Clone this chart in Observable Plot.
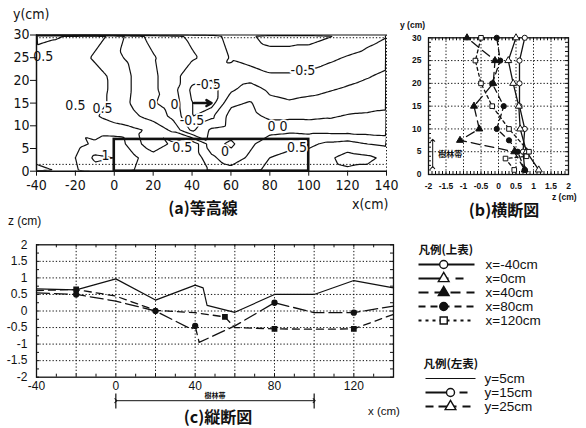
<!DOCTYPE html>
<html><head><meta charset="utf-8">
<script src="https://cdn.jsdelivr.net/npm/d3@7"></script>
<script src="https://cdn.jsdelivr.net/npm/@observablehq/plot@0.6"></script>
<style>
html,body{margin:0;padding:0;background:#fff;}
#root{position:relative;width:586px;height:428px;overflow:hidden;background:#fff;color:#111;font-family:"Liberation Sans",Arial,sans-serif;}
.t{position:absolute;white-space:nowrap;line-height:1;}
.cap{font-family:"Noto Sans CJK JP","Noto Sans CJK SC",sans-serif;font-weight:700;font-size:17px;transform:translateX(-50%);}
</style></head>
<body><div id="root"></div>
<script>
// ---------------- (a) contour map data ----------------
const contourX = [-40,-30,-20,-10,0,10,20,30,40,50,60,70,80,90,100,110,120,130,140];
const contourY = [30,25,21,18,15,12,9,6,3,0];
const contourZ = [
  [0.42,0.47,0.53,0.58,0.45,0.08,-0.08,-0.2,-0.3,-0.4,-0.6,-0.72,-0.85,-0.85,-0.85,-0.78,-0.7,-0.6,-0.52],
  [0.6,0.62,0.6,0.47,0.32,0.17,0.02,-0.1,-0.22,-0.32,-0.52,-0.6,-0.65,-0.65,-0.62,-0.55,-0.48,-0.42,-0.35],
  [0.62,0.63,0.62,0.58,0.45,0.22,0.05,-0.15,-0.4,-0.45,-0.45,-0.38,-0.47,-0.47,-0.44,-0.39,-0.33,-0.27,-0.2],
  [0.63,0.64,0.63,0.6,0.45,0.22,0.05,-0.15,-0.55,-0.6,-0.3,-0.12,-0.3,-0.35,-0.32,-0.27,-0.22,-0.17,-0.12],
  [0.65,0.65,0.62,0.58,0.45,0.2,0.02,-0.1,-0.5,-0.6,-0.05,0.02,-0.18,-0.22,-0.18,-0.15,-0.1,-0.07,-0.04],
  [0.66,0.66,0.62,0.52,0.42,0.3,0.15,-0.05,-0.5,-0.3,0.1,0.08,-0.05,-0.05,-0.05,-0.02,0.02,0.03,0.04],
  [0.7,0.72,0.7,0.62,0.6,0.55,0.45,0.2,-0.3,0.05,0.12,0.15,0.17,0.2,0.17,0.16,0.15,0.14,0.12],
  [0.65,0.65,0.65,0.8,0.95,0.6,0.35,0.55,0.7,0.1,-0.05,0.2,0.4,0.45,0.45,0.55,0.6,0.5,0.45],
  [0.7,0.72,0.75,1.05,1.0,0.8,0.6,0.65,0.7,0.3,0.1,0.3,0.5,0.55,0.6,0.7,0.85,0.8,0.7],
  [0.8,0.75,0.72,0.9,0.85,0.75,0.65,0.6,0.65,0.45,0.35,0.45,0.55,0.6,0.62,0.65,0.7,0.7,0.65]
];
const contourLevels = [-0.75,-0.5,-0.25,0,0.25,0.5,0.75,1];
const contourLabelText = ["0.5","0.5","0.5","0","0","-0.5","-0.5","0.5","0","-0.5","0 0","0.5","1"];
const contourLabelX = [-36.5,-20,-6,19.5,31,48.5,40,35,57,97,84,94,-4.5];
const contourLabelY = [25.3,14.4,13.7,14.6,14.6,19.2,11.2,5.3,4.4,22.1,9.8,5.3,3.5];
const treeZoneX = [0, 100];
const treeZoneTop = 7;
const waterLevel = 1.5;
const flowArrowX = [41, 50];
const flowArrowY = 15;

// ---------------- (b) cross sections (z vs y) ----------------
const bSeries = ["x=-40cm","x=0cm","x=40cm","x=80cm","x=120cm"];
const bY_m40 = [1,5,10,15,20,25,30];
const bZ_m40 = [0.75,0.7,0.75,0.6,0.6,0.6,0.75];
const bY_0 = [1,5,10,15,20,25,30];
const bZ_0 = [1.15,0.8,0.62,0.58,0.42,0.28,0.5];
const bY_40 = [1,5,7.5,10,15,20,25,30];
const bZ_40 = [0.75,0.45,-1.1,-0.55,-0.7,-0.15,-0.1,-0.9];
const bY_80 = [1,5,7.5,10,15,20,25,30];
const bZ_80 = [0.75,0.55,0.3,-0.05,0.15,-0.18,0.05,-0.05];
const bY_120 = [1,3.5,4,5,10,15,20,25,30];
const bZ_120 = [0.45,0.2,0.8,0.87,0.3,-0.18,-0.5,-0.66,-0.5];

// ---------------- (c) longitudinal sections (z vs x) ----------------
const cSeries = ["y=5cm","y=15cm","y=25cm"];
const cX_5 = [-40,-20,0,20,40,44,46,60,80,100,120,140];
const cZ_5 = [0.67,0.64,0.97,0.33,0.78,0.7,0.17,-0.04,0.5,0.5,0.92,0.7];
const cX_15 = [-40,-20,0,20,38,40,42,60,80,100,120,140];
const cZ_15 = [0.55,0.5,0.3,0.0,-0.55,-0.45,-0.95,-0.45,0.25,-0.05,-0.05,0.15];
const cX_25 = [-40,-20,0,20,40,55,60,80,100,120,140];
const cZ_25 = [0.62,0.65,0.45,0.02,-0.05,-0.18,-0.5,-0.54,-0.55,-0.54,-0.1];
const cMark_15 = [-20,20,40,80,120];
const cMark_25 = [-20,55,80,120];

// ---------------- styling ----------------
const SANS = '"Liberation Sans", Arial, Helvetica, sans-serif';
const NARROW = '"Liberation Sans Narrow","Arial Narrow","DejaVu Sans Condensed","Liberation Sans",sans-serif';
const CJK = '"Noto Sans CJK JP","Noto Sans CJK SC",sans-serif';
const INK = "#111";
const DOT = "1.3,2";
const fmt = d => String(d);

const root = document.getElementById("root");
function place(svg, left, top) {
  svg.style.position = "absolute";
  svg.style.left = left + "px";
  svg.style.top = top + "px";
  root.appendChild(svg);
}
function label(text, left, top, css, cls) {
  const d = document.createElement("div");
  d.className = cls || "t";
  d.textContent = text;
  d.style.left = left + "px";
  d.style.top = top + "px";
  Object.assign(d.style, css || {});
  root.appendChild(d);
  return d;
}

// ---------------- panel (a) ----------------
const grid = contourY.flatMap((y, i) => contourX.map((x, j) => ({x, y, z: contourZ[i][j]})));
const cLabels = contourLabelText.map((t, i) => ({t, x: contourLabelX[i], y: contourLabelY[i]}));
const pa = Plot.plot({
  width: 400, height: 195,
  marginLeft: 36, marginRight: 14, marginTop: 34.5, marginBottom: 24.3,
  x: {domain: [-40, 140]},
  y: {domain: [0, 30]},
  style: {fontFamily: NARROW, fontSize: "14px", color: INK, background: "transparent", overflow: "visible"},
  marks: [
    Plot.contour(grid, {x: "x", y: "y", value: "z", interpolate: "barycentric", thresholds: contourLevels,
      x1: -42, x2: 142, y1: -0.8, y2: 30.8, stroke: INK, strokeWidth: 1.2, fill: "none", clip: true}),
    Plot.ruleY([waterLevel], {stroke: INK, strokeDasharray: DOT}),
    Plot.ruleY([29.4], {stroke: INK, strokeDasharray: DOT}),
    Plot.ruleY([30], {stroke: INK, strokeWidth: 1}),
    Plot.ruleX([140], {stroke: INK, strokeDasharray: DOT}),
    Plot.rect([treeZoneX], {x1: d => d[0], x2: d => d[1], y1: 0, y2: treeZoneTop, stroke: INK, strokeWidth: 2.6, fill: "none"}),
    Plot.arrow([flowArrowX], {x1: d => d[0], x2: d => d[1], y1: flowArrowY, y2: flowArrowY, stroke: INK, strokeWidth: 2.5, headLength: 6}),
    Plot.text(cLabels, {x: "x", y: "y", text: "t", fill: INK, stroke: "white", strokeWidth: 3.5, fontSize: 14}),
    Plot.ruleX([-40], {stroke: INK, strokeWidth: 1.5}),
    Plot.ruleY([0], {stroke: INK, strokeWidth: 1.5}),
    Plot.axisX({ticks: d3.range(-40, 141, 20), tickSize: 5, tickPadding: 4, tickFormat: fmt, label: null}),
    Plot.axisY({ticks: d3.range(0, 31, 5), tickSize: 6, tickPadding: 1, tickFormat: fmt, label: null})
  ]
});
place(pa, 0, 0);

// ---------------- panel (b) ----------------
const bData = [
  {name: bSeries[0], y: bY_m40, z: bZ_m40, dash: null, symbol: "circle", fill: "white"},
  {name: bSeries[1], y: bY_0, z: bZ_0, dash: null, symbol: "triangle", fill: "white"},
  {name: bSeries[2], y: bY_40, z: bZ_40, dash: "9,5", symbol: "triangle", fill: INK},
  {name: bSeries[3], y: bY_80, z: bZ_80, dash: "6,4", symbol: "circle", fill: INK},
  {name: bSeries[4], y: bY_120, z: bZ_120, dash: "3,3", symbol: "square", fill: "white"}
];
const bW = 186, bH = 180, bML = 33, bMR = 13, bMT = 17.3, bMB = 26;
const bFW = bW - bML - bMR, bFH = bH - bMT - bMB;
const bMarks = [
  Plot.gridX(d3.range(-1.5, 2, 0.5), {stroke: INK, strokeOpacity: 1, strokeDasharray: DOT}),
  Plot.gridY(d3.range(5, 30, 5), {stroke: INK, strokeOpacity: 1, strokeDasharray: DOT}),
  Plot.tickX(d3.range(-2, 2.001, 0.1), {x: d => d, stroke: INK, insetTop: bFH - 3}),
  Plot.tickX(d3.range(-2, 2.001, 0.1), {x: d => d, stroke: INK, insetBottom: bFH - 3}),
  Plot.tickY(d3.range(0, 30.01, 1), {y: d => d, stroke: INK, insetRight: bFW - 3}),
  Plot.tickY(d3.range(0, 30.01, 1), {y: d => d, stroke: INK, insetLeft: bFW - 3}),
  Plot.frame({stroke: INK, strokeWidth: 1.3}),
  Plot.link([treeZoneTop], {x1: -1.88, x2: -1.88, y1: 1.5, y2: d => d + 0.5, stroke: INK, strokeWidth: 1, markerStart: "arrow", markerEnd: "arrow"}),
  Plot.text(["樹林帯"], {x: -1.38, y: 4.3, text: d => d, fontFamily: CJK, fontWeight: "bold", fontSize: 8, fill: INK})
];
for (const s of bData) {
  const pts = s.y.map((y, i) => ({y, z: s.z[i]}));
  bMarks.push(Plot.line(pts, {x: "z", y: "y", stroke: INK, strokeWidth: 1.3, strokeDasharray: s.dash}));
  bMarks.push(Plot.dot(pts, {x: "z", y: "y", symbol: s.symbol, fill: s.fill, stroke: INK, r: 2.6, strokeWidth: 1}));
}
bMarks.push(Plot.axisX({ticks: d3.range(-2, 2.001, 0.5), tickSize: 0, tickPadding: 8, tickFormat: fmt, label: null}));
bMarks.push(Plot.axisY({ticks: d3.range(0, 31, 5), tickSize: 0, tickPadding: 7, tickFormat: fmt, label: null}));
const pb = Plot.plot({
  width: bW, height: bH, marginLeft: bML, marginRight: bMR, marginTop: bMT, marginBottom: bMB,
  x: {domain: [-2, 2]}, y: {domain: [0, 30]},
  style: {fontFamily: SANS, fontSize: "8.5px", fontWeight: "bold", color: INK, background: "transparent", overflow: "visible"},
  marks: bMarks
});
place(pb, 395, 20);

// ---------------- panel (c) ----------------
const cData = [
  {name: cSeries[0], x: cX_5, z: cZ_5, dash: null, width: 1.2, marks: [], symbol: null},
  {name: cSeries[1], x: cX_15, z: cZ_15, dash: "13,5", width: 1.3, marks: cMark_15, symbol: "circle"},
  {name: cSeries[2], x: cX_25, z: cZ_25, dash: "7,5", width: 1.3, marks: cMark_25, symbol: "square"}
];
const cW = 410, cH = 200, cML = 36, cMR = 17, cMT = 34.3, cMB = 33.3;
const cFW = cW - cML - cMR, cFH = cH - cMT - cMB;
const cMarks = [
  Plot.gridX(d3.range(-20, 140, 20), {stroke: INK, strokeOpacity: 1, strokeDasharray: DOT}),
  Plot.gridY(d3.range(-1.5, 2, 0.5), {stroke: INK, strokeOpacity: 1, strokeDasharray: DOT}),
  Plot.tickX(d3.range(-40, 141, 10), {x: d => d, stroke: INK, insetTop: cFH - 3}),
  Plot.tickX(d3.range(-40, 141, 10), {x: d => d, stroke: INK, insetBottom: cFH - 3}),
  Plot.tickY(d3.range(-2, 2.001, 0.25), {y: d => d, stroke: INK, insetRight: cFW - 3}),
  Plot.tickY(d3.range(-2, 2.001, 0.25), {y: d => d, stroke: INK, insetLeft: cFW - 3}),
  Plot.frame({stroke: INK, strokeWidth: 1.3})
];
for (const s of cData) {
  const pts = s.x.map((x, i) => ({x, z: s.z[i]}));
  cMarks.push(Plot.line(pts, {x: "x", y: "z", stroke: INK, strokeWidth: s.width, strokeDasharray: s.dash}));
  if (s.symbol) {
    const mk = pts.filter(p => s.marks.includes(p.x));
    cMarks.push(Plot.dot(mk, {x: "x", y: "z", symbol: s.symbol, fill: INK, stroke: INK, r: 2.4}));
  }
}
cMarks.push(
  Plot.link([treeZoneX], {x1: d => d[0], x2: d => d[1], y1: -2, y2: -2, dy: 23.5, stroke: INK, strokeWidth: 1, markerStart: "arrow", markerEnd: "arrow"}),
  Plot.text(["樹林帯"], {x: d3.mean(treeZoneX), y: -2, dy: 18.5, text: d => d, fontFamily: CJK, fontWeight: "bold", fontSize: 7, fill: INK}),
  Plot.axisX({ticks: d3.range(-40, 141, 40), tickSize: 0, tickPadding: 4, tickFormat: fmt, label: null}),
  Plot.axisY({ticks: d3.range(-2, 2.001, 0.5), tickSize: 0, tickPadding: 9, tickFormat: fmt, label: null})
);
const pc = Plot.plot({
  width: cW, height: cH, marginLeft: cML, marginRight: cMR, marginTop: cMT, marginBottom: cMB,
  x: {domain: [-40, 140]}, y: {domain: [-2, 2]},
  style: {fontFamily: SANS, fontSize: "12px", color: INK, background: "transparent", overflow: "visible"},
  marks: cMarks
});
place(pc, 0, 210);

// tree-zone end bars under panel (c)
const pcEnds = Plot.plot({
  width: cW, height: 30, marginLeft: cML, marginRight: cMR, marginTop: 0, marginBottom: 0,
  x: {domain: [-40, 140], axis: null}, y: {domain: [0, 1], axis: null},
  style: {background: "transparent", overflow: "visible"},
  marks: [Plot.ruleX(treeZoneX, {x: d => d, y1: 0.25, y2: 0.75, stroke: INK, strokeWidth: 1.2})]
});
place(pcEnds, 0, 385.5);

// ---------------- legends ----------------
const leg1Keys = ["凡例(上表)", ...bSeries];
const leg1Marks = [
  Plot.text([leg1Keys[0]], {x: 0, y: d => d, text: d => d, textAnchor: "start", fontFamily: CJK, fontWeight: "bold", fontSize: 11.5, fill: INK})
];
const legDash = [null, "30,7,8", "10,6", "7,5", "3,4"];
bData.forEach((s, i) => {
  leg1Marks.push(Plot.link([s.name], {x1: 0, x2: 1, y1: d => d, y2: d => d, stroke: INK, strokeWidth: 1.9, strokeDasharray: legDash[i]}));
  leg1Marks.push(Plot.dot([s.name], {x: 0.45, y: d => d, symbol: s.symbol, fill: s.fill, stroke: INK, r: 4, strokeWidth: 1.4}));
  leg1Marks.push(Plot.text([s.name], {x: 1, dx: 11, y: d => d, text: d => d, textAnchor: "start", fontFamily: SANS, fontSize: 13.5, fill: INK}));
});
const leg1 = Plot.plot({
  width: 186, height: 106, margin: 0,
  x: {domain: [0, 1], range: [18, 74], axis: null},
  y: {type: "point", domain: leg1Keys, range: [9, 97.3], axis: null},
  style: {background: "transparent", overflow: "visible"},
  marks: leg1Marks
});
place(leg1, 400, 232);

const leg2Keys = ["凡例(左表)", ...cSeries];
const leg2Marks = [
  Plot.text([leg2Keys[0]], {x: -0.04, y: d => d, text: d => d, textAnchor: "start", fontFamily: CJK, fontWeight: "bold", fontSize: 11.5, fill: INK})
];
const leg2Dash = [null, "26,8,8", "8,5,18,6"];
const leg2Sym = [null, "circle", "triangle"];
cData.forEach((s, i) => {
  leg2Marks.push(Plot.link([s.name], {x1: 0, x2: 1, y1: d => d, y2: d => d, stroke: INK, strokeWidth: i === 0 ? 1.2 : 1.9, strokeDasharray: leg2Dash[i]}));
  if (leg2Sym[i]) leg2Marks.push(Plot.dot([s.name], {x: 0.5, y: d => d, symbol: leg2Sym[i], fill: "white", stroke: INK, r: 4, strokeWidth: 1.4}));
  leg2Marks.push(Plot.text([s.name], {x: 1, dx: 9, y: d => d, text: d => d, textAnchor: "start", fontFamily: SANS, fontSize: 13.5, fill: INK}));
});
const leg2 = Plot.plot({
  width: 186, height: 80, margin: 0,
  x: {domain: [0, 1], range: [25, 75], axis: null},
  y: {type: "point", domain: leg2Keys, range: [11.7, 68.3], axis: null},
  style: {background: "transparent", overflow: "visible"},
  marks: leg2Marks
});
place(leg2, 400, 345);

// ---------------- titles & axis names ----------------
label("y(cm)", 13, 7, {fontSize: "14px", fontFamily: NARROW});
label("x(cm)", 352, 197, {fontSize: "14px", fontFamily: NARROW});
label("(a)等高線", 203, 199, {fontSize: "16px"}, "t cap");
label("y (cm)", 400, 21, {fontSize: "8.5px", fontWeight: "bold"});
label("z (cm)", 552, 193, {fontSize: "8.5px", fontWeight: "bold"});
label("(b)横断図", 504, 201, {fontSize: "16px"}, "t cap");
label("z (cm)", 8, 215, {fontSize: "12px"});
label("x (cm)", 368, 406, {fontSize: "11.5px"});
label("(c)縦断図", 218, 408, {fontSize: "16px"}, "t cap");
</script>
</body></html>
